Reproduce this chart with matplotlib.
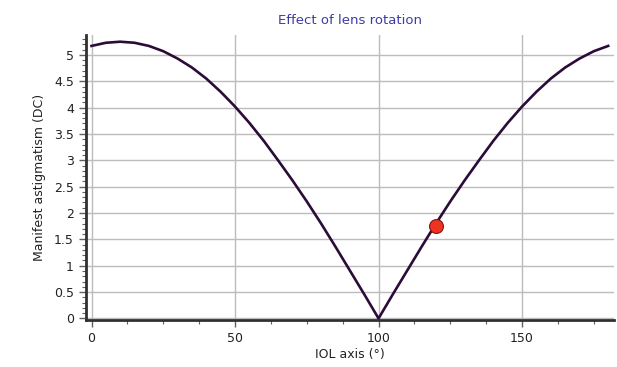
import matplotlib
matplotlib.use("Agg")
import matplotlib.pyplot as plt
from matplotlib.ticker import MultipleLocator

# IOL axis (deg) and manifest astigmatism (DC)
axis_deg = [0, 5, 10, 15, 20, 25, 30, 35, 40, 45, 50, 55, 60, 65, 70, 75, 80, 85, 90,
            95, 100, 105, 110, 115, 120, 125, 130, 135, 140, 145, 150, 155, 160, 165,
            170, 175, 180]
astig_dc = [5.17, 5.23, 5.25, 5.23, 5.17, 5.07, 4.93, 4.76, 4.55, 4.30, 4.02, 3.71,
            3.37, 3.00, 2.62, 2.22, 1.80, 1.36, 0.91, 0.46, 0.00, 0.46, 0.91, 1.36,
            1.80, 2.22, 2.62, 3.00, 3.37, 3.71, 4.02, 4.30, 4.55, 4.76, 4.93, 5.07, 5.17]

# current lens position
cur_axis = [120]
cur_astig = [1.75]

xticks = [0, 50, 100, 150]
yticks = [0, 0.5, 1, 1.5, 2, 2.5, 3, 3.5, 4, 4.5, 5]
ytick_labels = ["0", "0.5", "1", "1.5", "2", "2.5", "3", "3.5", "4", "4.5", "5"]

plt.rcParams['font.family'] = ['DejaVu Sans']

fig = plt.figure(figsize=(6.17, 3.67), dpi=100)
ax = fig.add_axes([0.139, 0.128, 0.856, 0.777])

ax.plot(axis_deg, astig_dc, color='#2b0b38', lw=1.9, zorder=3)
ax.plot(cur_axis, cur_astig, 'o', ms=10, color='#ee3322', mec='#7a1a10', mew=0.8, zorder=4)

ax.set_xlim(-2, 182)
ax.set_ylim(-0.03, 5.38)
ax.set_xticks(xticks)
ax.set_yticks(yticks)
ax.set_yticklabels(ytick_labels)
ax.xaxis.set_minor_locator(MultipleLocator(12.5))
ax.yaxis.set_minor_locator(MultipleLocator(0.1))

ax.grid(True, which='major', color='#bcbcbc', lw=1)
ax.set_axisbelow(True)

for s in ['top', 'right']:
    ax.spines[s].set_visible(False)
for s in ['left', 'bottom']:
    ax.spines[s].set_linewidth(2)
    ax.spines[s].set_color('#303030')

ax.tick_params(which='major', length=5, width=1, color='#606060', labelsize=9, labelcolor='#222222')
ax.tick_params(which='minor', length=3, width=0.8, color='#606060')

ax.set_title('Effect of lens rotation', color='#3c3ca8', fontsize=9.5, pad=8)
ax.set_xlabel('IOL axis (°)', fontsize=9, color='#222222', labelpad=2)
ax.set_ylabel('Manifest astigmatism (DC)', fontsize=9, color='#222222', labelpad=6)

fig.savefig('out.png', dpi=100)
